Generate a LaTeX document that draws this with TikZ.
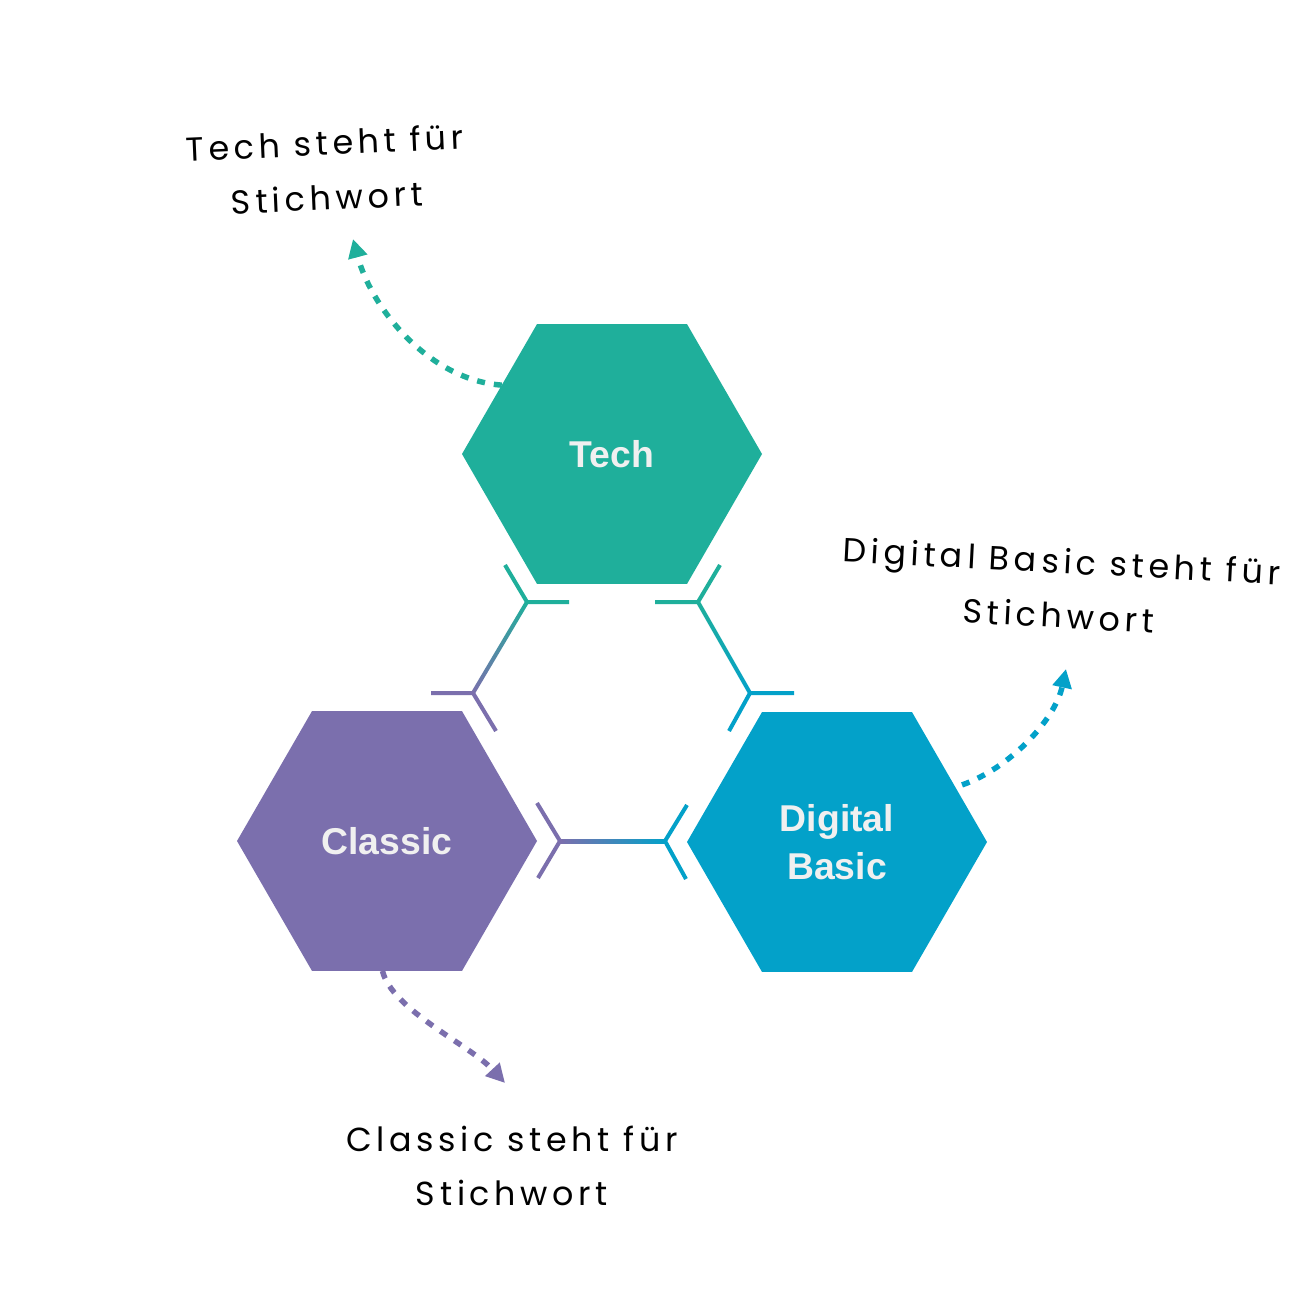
\documentclass[tikz,border=0pt]{standalone}
\usepackage{fontspec}
\setmainfont{Liberation Sans}
\newfontfamily\handfont{Poppins}[LetterSpace=14]
\usetikzlibrary{shapes.geometric,arrows.meta,calc}
\definecolor{techc}{HTML}{1FAF9B}
\definecolor{classc}{HTML}{7B6FAD}
\definecolor{digc}{HTML}{03A1C9}
\definecolor{hextext}{HTML}{F0F0F0}
\newcommand\gradseg[3]{%
  \shade[#3] ($(#1)!1.5pt!90:(#2)$) -- ($(#2)!1.5pt!-90:(#1)$) -- ($(#2)!1.5pt!90:(#1)$) -- ($(#1)!1.5pt!-90:(#2)$) -- cycle;}
\begin{document}
\begin{tikzpicture}[x=0.75pt,y=-0.75pt,
  hexa/.style={regular polygon, regular polygon sides=6, minimum size=225pt, inner sep=0pt, outer sep=0pt, draw=none, text=hextext, font=\fontsize{28}{36}\selectfont\bfseries, align=center},
  note/.style={font=\handfont\fontsize{25}{41}\selectfont, align=center, text=black},
  callout/.style={line width=4.1pt, dash pattern=on 6pt off 6.75pt, -{Triangle[length=14pt,width=14pt]}},
  conn/.style={line width=3pt}]
\useasboundingbox[fill=white] (0,0) rectangle (1305,1296);

% hexagons
\node[hexa, fill=techc] (tech) at (612,454) {Tech};
\node[hexa, fill=classc] (classic) at (387,841) {Classic};
\node[hexa, fill=digc] (digital) at (837,842) {Digital\\Basic};

% junction coordinates
\coordinate (j1) at (527,602);
\coordinate (j2) at (473,693);
\coordinate (j3) at (698,602);
\coordinate (j4) at (750,693);
\coordinate (j5) at (560,841);
\coordinate (j6) at (665,841);
\coordinate (s1a) at (505,565);
\coordinate (s1b) at (569,602);
\coordinate (s2a) at (431,693);
\coordinate (s2b) at (496,731);
\coordinate (s3a) at (720,565);
\coordinate (s3b) at (655,602);
\coordinate (s4a) at (794,693);
\coordinate (s4b) at (729,731);
\coordinate (s5a) at (537,803);
\coordinate (s5b) at (538,878);
\coordinate (s6a) at (687,805);
\coordinate (s6b) at (686,879);

% gradient connectors
\gradseg{j1}{j2}{top color=techc, bottom color=classc}
\gradseg{j3}{j4}{top color=techc, bottom color=digc}
\gradseg{j5}{j6}{left color=classc, right color=digc}

% stubs
\draw[conn, techc] (s1a) -- (j1) -- (s1b);
\draw[conn, techc] (s3a) -- (j3) -- (s3b);
\draw[conn, classc] (s2a) -- (j2) -- (s2b);
\draw[conn, classc] (s5a) -- (j5) -- (s5b);
\draw[conn, digc] (s4a) -- (j4) -- (s4b);
\draw[conn, digc] (s6a) -- (j6) -- (s6b);

% notes
\node[note, rotate=2.5] (technote) at (326,170) {Tech steht für\\Stichwort};
\node[note, rotate=-3] (dignote) at (1060,588) {Digital Basic steht für\\Stichwort};
\node[note] (classnote) at (512,1166) {Classic steht für\\Stichwort};

% callout arrows
\coordinate (techtip) at (353,239);
\coordinate (digtip) at (1066,669);
\coordinate (classtip) at (505,1083);
\draw[callout, techc] (tech.148) .. controls (430,380) and (372,310) .. (techtip);
\draw[callout, digc] ([xshift=6pt]digital.26) .. controls (1010,768) and (1055,720) .. (digtip);
\draw[callout, classc] (classic.-92) .. controls (392,1010) and (470,1045) .. (classtip);
\end{tikzpicture}
\end{document}
